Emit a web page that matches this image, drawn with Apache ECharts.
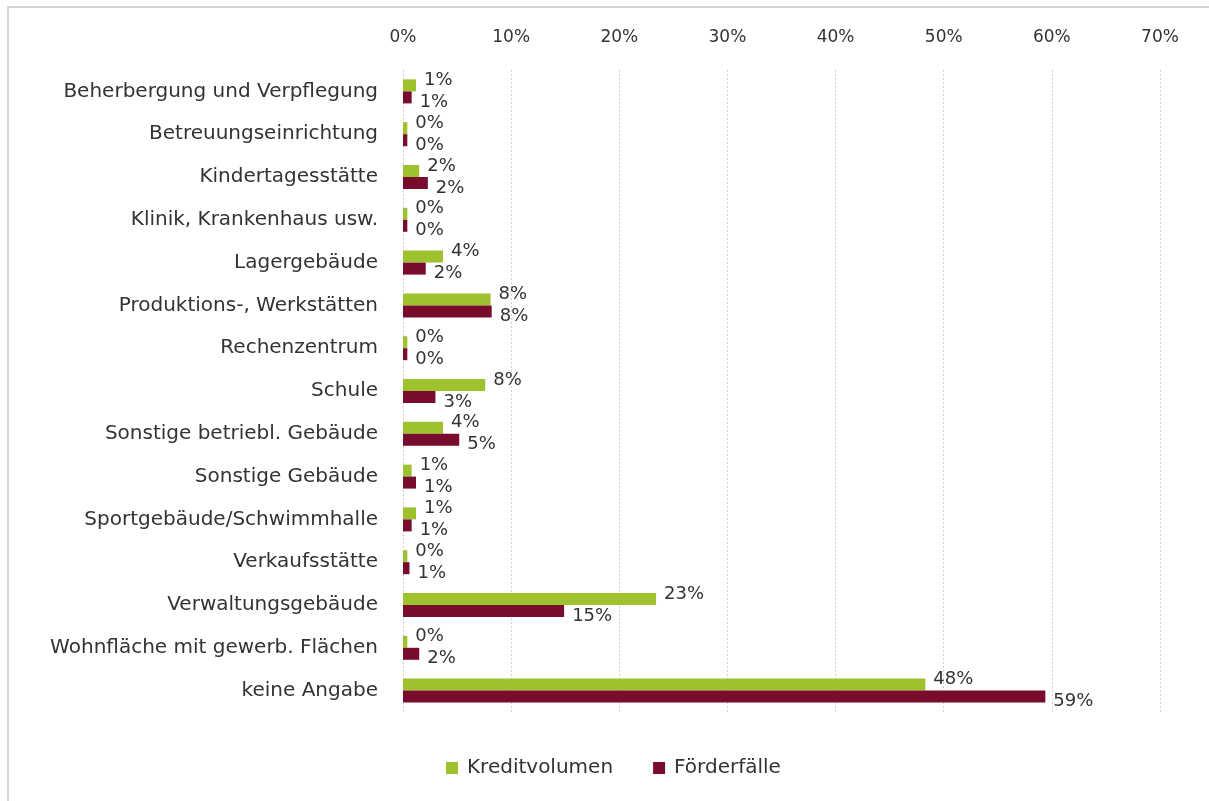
<!DOCTYPE html>
<html>
<head>
<meta charset="utf-8">
<script src="https://cdn.jsdelivr.net/npm/echarts@6/dist/echarts.min.js"></script>
<style>
  html, body { margin: 0; padding: 0; background: #fff; }
  #chart { width: 1209px; height: 801px; }
</style>
</head>
<body>
<div id="chart"></div>
<script>
// Kategorien (von oben nach unten)
const categories = [
  'Beherbergung und Verpflegung',
  'Betreuungseinrichtung',
  'Kindertagesstätte',
  'Klinik, Krankenhaus usw.',
  'Lagergebäude',
  'Produktions-, Werkstätten',
  'Rechenzentrum',
  'Schule',
  'Sonstige betriebl. Gebäude',
  'Sonstige Gebäude',
  'Sportgebäude/Schwimmhalle',
  'Verkaufsstätte',
  'Verwaltungsgebäude',
  'Wohnfläche mit gewerb. Flächen',
  'keine Angabe'
];
// Anteile in %
const kreditvolumen = [1.2, 0.4, 1.5, 0.4, 3.7, 8.1, 0.4, 7.6, 3.7, 0.8, 1.2, 0.4, 23.4, 0.4, 48.3];
const foerderfaelle = [0.8, 0.4, 2.3, 0.4, 2.1, 8.2, 0.4, 3.0, 5.2, 1.2, 0.8, 0.6, 14.9, 1.5, 59.4];
const xTicks = [0, 10, 20, 30, 40, 50, 60, 70];

const font = 'DejaVu Sans';
const textColor = '#333333';

const chart = echarts.init(document.getElementById('chart'));
const option = {
  backgroundColor: '#ffffff',
  animation: false,
  color: ['#9dc22d', '#780c2c'],
  textStyle: { fontFamily: font, color: textColor },
  // Rahmen links und oben (wie im Excel-Diagramm)
  graphic: [{
    type: 'polyline',
    shape: { points: [[8, 801], [8, 7], [1209, 7]] },
    style: { fill: 'none', stroke: '#d4d4d4', lineWidth: 2 },
    silent: true
  }],
  grid: { left: 403, right: 49, top: 70, height: 642 },
  legend: {
    data: ['Kreditvolumen', 'Förderfälle'],
    left: 441,
    top: 753,
    itemWidth: 12, itemHeight: 12,
    itemGap: 40,
    icon: 'rect',
    textStyle: { fontFamily: font, fontSize: 20, color: textColor, padding: [0, 0, 0, 4] }
  },
  xAxis: {
    type: 'value',
    position: 'top',
    min: xTicks[0],
    max: xTicks[xTicks.length - 1],
    interval: 10,
    axisLine: { show: false },
    axisTick: { show: false },
    axisLabel: {
      formatter: '{value}%',
      margin: 24,
      fontFamily: font, fontSize: 17, color: textColor
    },
    splitLine: { show: true, lineStyle: { color: '#cfcfdc', type: [2, 2], width: 1 } }
  },
  yAxis: {
    type: 'category',
    data: categories,
    inverse: true,
    axisLine: { show: false },
    axisTick: { show: false },
    axisLabel: { margin: 25, fontFamily: font, fontSize: 20, color: textColor }
  },
  series: [
    {
      name: 'Kreditvolumen',
      type: 'bar',
      data: kreditvolumen,
      barWidth: 12,
      barGap: '0%',
      label: {
        show: true, position: 'right', distance: 8, offset: [0, -5],
        formatter: p => Math.round(p.value) + '%',
        fontFamily: font, fontSize: 18, color: textColor
      }
    },
    {
      name: 'Förderfälle',
      type: 'bar',
      data: foerderfaelle,
      barWidth: 12,
      label: {
        show: true, position: 'right', distance: 8, offset: [0, 5],
        formatter: p => Math.round(p.value) + '%',
        fontFamily: font, fontSize: 18, color: textColor
      }
    }
  ]
};
chart.setOption(option);
</script>
</body>
</html>
